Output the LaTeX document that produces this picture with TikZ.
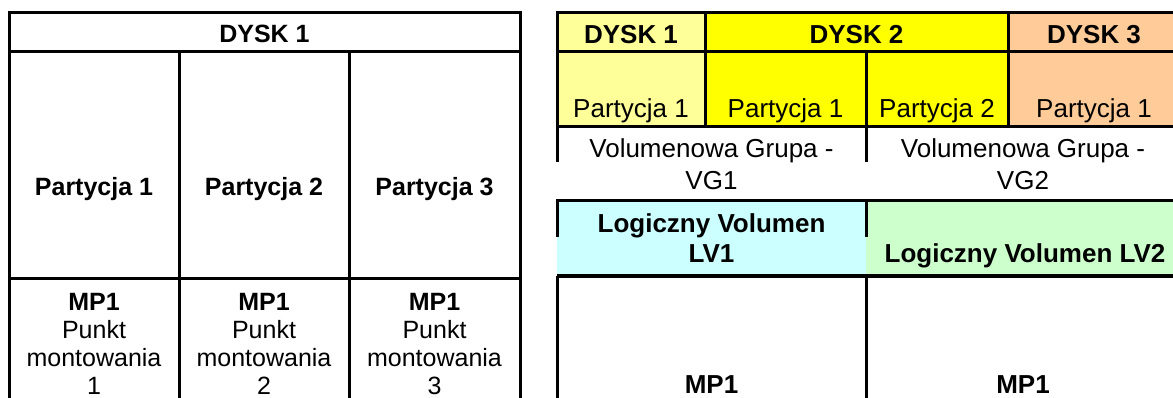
\documentclass[tikz,border=0pt]{standalone}
\usepackage{fontspec}
\setmainfont{Liberation Sans}
\definecolor{dOne}{HTML}{FFFF99}
\definecolor{dTwo}{HTML}{FFFF00}
\definecolor{dThree}{HTML}{FFCC99}
\definecolor{lvOne}{HTML}{CCFFFF}
\definecolor{lvTwo}{HTML}{CCFFCC}
\begin{document}
\begin{tikzpicture}[x=1pt,y=-1pt,
  gridline/.style={line width=3pt},
  ltxt/.style={font=\fontsize{25}{29}\selectfont, inner sep=0pt, anchor=base},
  lbold/.style={ltxt, font=\fontsize{25}{29}\selectfont\bfseries},
  rtxt/.style={font=\fontsize{26}{30}\selectfont, inner sep=0pt, anchor=base},
  rbold/.style={rtxt, font=\fontsize{26}{30}\selectfont\bfseries}]
\useasboundingbox (0,0) rectangle (1173,398);
% ---------- left table ----------
\draw[gridline] (9,400) -- (9,13) -- (520,13) -- (520,400);
\draw[gridline] (9,52) -- (520,52);
\draw[gridline] (179,52) -- (179,400);
\draw[gridline] (349,52) -- (349,400);
\draw[gridline] (9,278) -- (520,278);
\node[lbold] (lDysk) at (264.5,43) {DYSK 1};
\node[lbold] (lP1) at (94,196) {Partycja 1};
\node[lbold] (lP2) at (264,196) {Partycja 2};
\node[lbold] (lP3) at (434.5,196) {Partycja 3};
\foreach \x/\n in {94/1,264/2,434.5/3}{
  \node[lbold] (lMP\n) at (\x,310) {MP1};
  \node[ltxt] (lPk\n) at (\x,338) {Punkt};
  \node[ltxt] (lMo\n) at (\x,366) {montowania};
  \node[ltxt] (lNr\n) at (\x,394) {\n};
}
% ---------- right table ----------
\fill[dOne] (557,13) rectangle (705,127);
\fill[dTwo] (705,13) rectangle (1008,127);
\fill[dThree] (1008,13) rectangle (1185,127);
\fill[lvOne] (557,201) rectangle (866,276);
\fill[lvTwo] (866,201) rectangle (1185,276);
\draw[gridline] (557,162) -- (557,13) -- (1185,13);
\draw[gridline] (557,52) -- (1185,52);
\draw[gridline] (557,127) -- (1185,127);
\draw[gridline] (705,13) -- (705,127);
\draw[gridline] (1008,13) -- (1008,127);
\draw[gridline] (866,52) -- (866,162);
\draw[gridline] (557,237) -- (557,201) -- (1185,201);
\draw[gridline] (866,201) -- (866,237);
\draw[gridline] (557,276) -- (1185,276);
\draw[gridline] (557,276) -- (557,400);
\draw[gridline] (866,276) -- (866,400);
\node[rbold] (rD1) at (631,44) {DYSK 1};
\node[rbold] (rD2) at (856.5,44) {DYSK 2};
\node[rbold] (rD3) at (1094,44) {DYSK 3};
\node[rtxt] (rP11) at (631,118) {Partycja 1};
\node[rtxt] (rP21) at (785.5,118) {Partycja 1};
\node[rtxt] (rP22) at (937,118) {Partycja 2};
\node[rtxt] (rP31) at (1094,118) {Partycja 1};
\node[rtxt] (rVGa) at (711.5,158) {Volumenowa Grupa -};
\node[rtxt] (rVGb) at (711.5,190) {VG1};
\node[rtxt] (rVGc) at (1023,158) {Volumenowa Grupa -};
\node[rtxt] (rVGd) at (1023,190) {VG2};
\node[rbold] (rLVa) at (711.5,233) {Logiczny Volumen};
\node[rbold] (rLVb) at (711.5,262) {LV1};
\node[rbold] (rLVc) at (1025,262) {Logiczny Volumen LV2};
\node[rbold] (rMPa) at (711.5,393) {MP1};
\node[rbold] (rMPb) at (1023,393) {MP1};
\end{tikzpicture}
\end{document}
